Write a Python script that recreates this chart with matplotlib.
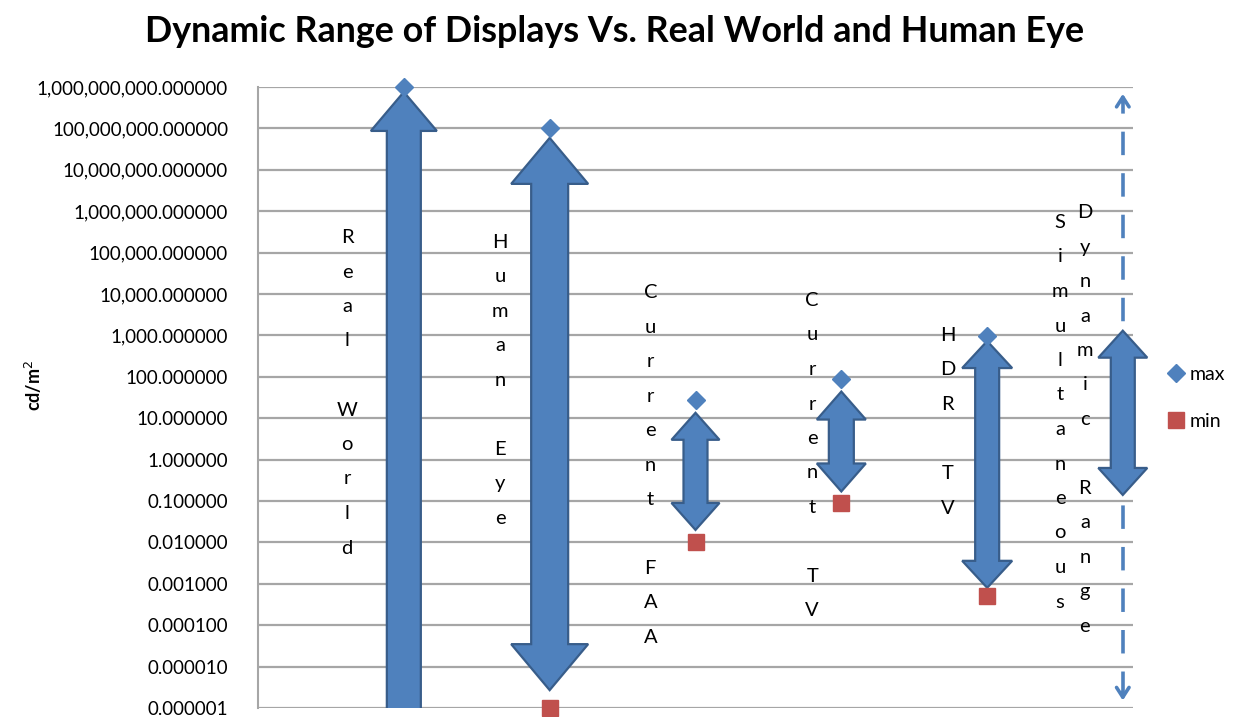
import numpy as np
import matplotlib
matplotlib.use("Agg")
import matplotlib.pyplot as plt
from matplotlib.patches import Polygon
from matplotlib.lines import Line2D

plt.rcParams['font.family'] = ['Lato', 'DejaVu Sans']

# ---- data ----
categories = ["Real World", "Human Eye", "Current FAA", "Current TV", "HDR TV"]
max_vals = [1e9, 1e8, 27, 87, 950]
min_vals = [None, 1e-6, 0.01, 0.09, 0.0005]
# decorative range arrows (top tip, bottom tip, double-headed?)
arrow_x = [1, 2, 3, 4, 5, 5.93]
arrow_top = [7.6e8, 5.9e7, 13.5, 44, 730, 1300]
arrow_bottom = [1e-7, 2.7e-6, 0.02, 0.17, 0.0008, 0.14]
arrow_double = [False, True, True, True, True, True]
arrow_body_px = [34, 37, 24, 25, 24, 24]
arrow_head_px = [66, 77, 48, 49, 50, 49]
arrow_headlen_px = [39, 46, 27, 28, 27, 27]
dyn_x = 5.93
dyn_top = 8e8
dyn_bottom = 1.3e-6
yticks = [10.0 ** k for k in range(-6, 10)]

# label columns: (text, x, top pixel)
labels = [("Real World", 0.61, 229), ("Human Eye", 1.66, 234), ("Current FAA", 2.69, 284),
          ("Current TV", 3.80, 292), ("HDR TV", 4.73, 327), ("Simultaneous", 5.50, 214),
          ("Dynamic Range", 5.67, 204)]

W, H = 1233, 717
fig = plt.figure(figsize=(W / 100, H / 100), dpi=100)
L, R, T, B = 258, 1133, 87, 708
ax = fig.add_axes([L / W, 1 - B / H, (R - L) / W, (B - T) / H])
ax.set_yscale('log')
ax.set_ylim(1e-6, 1e9)
ax.set_xlim(0, 6)

xpp = 6 / (R - L)          # x data per pixel
dpp = 15 / (B - T)         # decades per pixel

ax.set_yticks(yticks)
ax.set_yticklabels([f"{v:,.6f}" for v in yticks], fontsize=13.5)
ax.yaxis.set_minor_locator(matplotlib.ticker.NullLocator())
ax.tick_params(axis='y', length=0, pad=21.5)
ax.set_xticks([])
for s in ['top', 'right', 'bottom']:
    ax.spines[s].set_visible(False)
ax.spines['left'].set_color('#A6A6A6')
ax.spines['left'].set_linewidth(1.5)
ax.grid(axis='y', color='#A6A6A6', linewidth=1.6)
ax.set_axisbelow(True)

ax.set_ylabel("cd/m$^2$", fontsize=13, fontweight='bold')
ax.yaxis.set_label_coords(-0.245, 0.52)

fill_c = '#4F81BD'
edge_c = '#385D8A'


def arrow_poly(x, top, bottom, body, head, hl, double):
    bw = body / 2 * xpp
    hw = head / 2 * xpp
    lt, lb = np.log10(top), np.log10(bottom)
    hdec = hl * dpp
    pts = [(x, lt), (x + hw, lt - hdec), (x + bw, lt - hdec)]
    if double:
        pts += [(x + bw, lb + hdec), (x + hw, lb + hdec), (x, lb), (x - hw, lb + hdec), (x - bw, lb + hdec)]
    else:
        pts += [(x + bw, lb), (x - bw, lb)]
    pts += [(x - bw, lt - hdec), (x - hw, lt - hdec)]
    return [(px, 10 ** py) for px, py in pts]


for i in range(len(arrow_x)):
    poly = Polygon(arrow_poly(arrow_x[i], arrow_top[i], arrow_bottom[i], arrow_body_px[i],
                              arrow_head_px[i], arrow_headlen_px[i], arrow_double[i]),
                   closed=True, facecolor=fill_c, edgecolor=edge_c, linewidth=1.6, zorder=3)
    ax.add_patch(poly)
    if i == len(arrow_x) - 1:
        poly.set_clip_on(False)

# dashed dynamic-range line with open heads
ax.plot([dyn_x, dyn_x], [dyn_bottom * 1.6, dyn_top / 1.6], color=fill_c, lw=2.6,
        dashes=(6.5, 5), zorder=2)
ax.annotate('', xy=(dyn_x, dyn_top), xytext=(dyn_x, dyn_top / 2.2),
            arrowprops=dict(arrowstyle='->,head_length=0.7,head_width=0.45', lw=2.6, color=fill_c), zorder=2)
ax.annotate('', xy=(dyn_x, dyn_bottom), xytext=(dyn_x, dyn_bottom * 2.2),
            arrowprops=dict(arrowstyle='->,head_length=0.7,head_width=0.45', lw=2.6, color=fill_c), zorder=2)

xs = np.arange(1, len(categories) + 1)
ax.plot(xs, max_vals, linestyle='none', marker='D', markersize=9, color=fill_c,
        zorder=5, clip_on=False, label='max')
mx = [x for x, v in zip(xs, min_vals) if v is not None]
mv = [v for v in min_vals if v is not None]
ax.plot(mx, mv, linestyle='none', marker='s', markersize=11, color='#C0504D',
        zorder=5, clip_on=False, label='min')

for text, x, ytop in labels:
    s = "\n".join(list(text))
    ax.text(x, 1 - (ytop - T) / (B - T), s, transform=ax.get_xaxis_transform(),
            ha='center', va='top', fontsize=14.5, linespacing=2.25, zorder=4)

handles = [Line2D([], [], linestyle='none', marker='D', markersize=9, color=fill_c),
           Line2D([], [], linestyle='none', marker='s', markersize=11, color='#C0504D')]
fig.legend(handles, ['max', 'min'], loc='upper left', bbox_to_anchor=(1160 / W, 1 - 358 / H),
           frameon=False, fontsize=14, handlelength=0.8, handletextpad=0.3, labelspacing=1.55,
           borderaxespad=0)

fig.text(615 / W, 1 - 32 / H, "Dynamic Range of Displays Vs. Real World and Human Eye",
         ha='center', va='center', fontsize=25.8, fontweight='bold')

fig.savefig("out.png", dpi=100)
